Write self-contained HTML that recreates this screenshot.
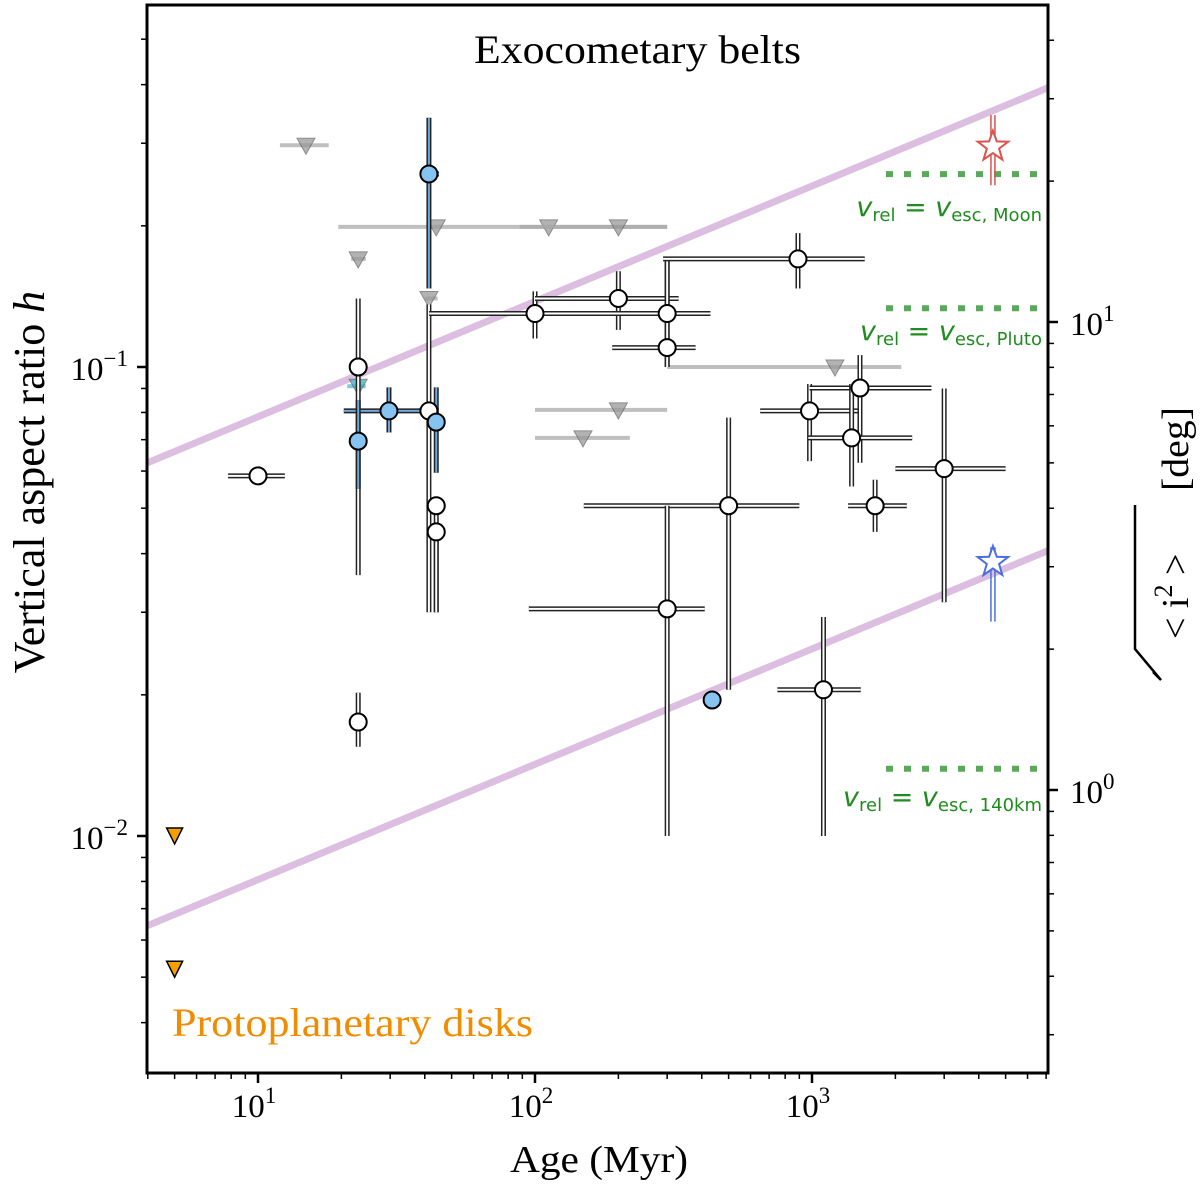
<!DOCTYPE html>
<html><head><meta charset="utf-8"><style>
body{margin:0;background:#fff}
svg text{font-family:"Liberation Serif",serif}
</style></head><body>
<svg id="chart" width="1200" height="1187" xmlns="http://www.w3.org/2000/svg"></svg>
<script>
// ---- data ----
const whiteAge = [10, 23, 23, 41.4, 44, 44, 100, 200, 300, 300, 890, 980, 1490, 1390, 1690, 3000, 500, 300, 1100];
const whiteH   = [0.0586, 0.1, 0.0175, 0.0806, 0.0506, 0.0445, 0.130, 0.140, 0.130, 0.110, 0.170, 0.0806, 0.0902, 0.0706, 0.0506, 0.0607, 0.0506, 0.0305, 0.0205];
const whiteAgeLo = [7.8, 22, 22, 38, 43, 43, 41.5, 100, 41.5, 190, 290, 650, 980, 970, 1350, 2000, 150, 95, 750];
const whiteAgeHi = [12.5, 24.5, 24.5, 45, 46, 46, 430, 330, 430, 380, 1550, 1500, 2700, 2300, 2200, 5000, 900, 410, 1500];
const whiteHLo = [0.0586, 0.036, 0.0155, 0.030, 0.030, 0.030, 0.115, 0.120, 0.1, 0.1, 0.147, 0.063, 0.0625, 0.0556, 0.0445, 0.0315, 0.0205, 0.0100, 0.0100];
const whiteHHi = [0.0586, 0.140, 0.0202, 0.136, 0.0506, 0.0445, 0.145, 0.160, 0.171, 0.171, 0.193, 0.092, 0.106, 0.092, 0.0575, 0.090, 0.078, 0.0506, 0.0293];

const blueAge = [41.4, 29.7, 23, 44, 436];
const blueH   = [0.258, 0.0806, 0.0695, 0.0763, 0.0195];
const blueAgeLo = [40, 20.4, 22, 43.5, 436];
const blueAgeHi = [45, 41.4, 24.5, 45, 436];
const blueHLo = [0.147, 0.0725, 0.055, 0.0595, 0.0195];
const blueHHi = [0.340, 0.0905, 0.085, 0.0905, 0.0195];

const grayAge = [14.9, 44, 112, 200, 23, 41.4, 1210, 200, 149, 23];
const grayH   = [0.297, 0.199, 0.199, 0.199, 0.170, 0.140, 0.100, 0.081, 0.0706, 0.091];
const grayAgeLo = [12, 19.5, 88, 88, 21.7, 40, 300, 100, 100, 21];
const grayAgeHi = [18, 88, 300, 300, 24.5, 44.5, 2100, 300, 220, 24.5];

const diskAge = [5, 5];
const diskH = [0.0100, 0.0052];

const trendH0 = [0.0624, 0.00643]; // h at age 3.97 Myr
const trendSlope = 0.246;

const starAge = [4500, 4500];
const starInc = [23.7, 3.07];
const starIncLo = [19.6, 2.29];
const starIncHi = [27.7, 3.3];
const escInc = [20.7, 10.7, 1.11];
const escLabel = ["Moon", "Pluto", "140km"];

const xTicks = [10, 100, 1000];
const yTicks = [-2, -1];
const rTicks = [0, 1];

// ---- scales ----
const L=147,R=1048,T=5,B=1073;
const X = a => 258 + 277*(Math.log10(a)-1);
const Y = h => 367 - 469*(Math.log10(h)+1);
const YR = d => 790 - 468*Math.log10(d);
const svg = document.getElementById('chart');
const NS='http://www.w3.org/2000/svg';
function mk(tag, at, parent){const e=document.createElementNS(NS,tag);for(const k in at)e.setAttribute(k,at[k]);(parent||svg).appendChild(e);return e;}

const defs=mk('defs',{});
const cp=mk('clipPath',{id:'cp'},defs); mk('rect',{x:L,y:T,width:R-L,height:B-T},cp);
const g=mk('g',{'clip-path':'url(#cp)'});



trendH0.forEach((h0,i)=>{
  const f=a=>h0*Math.pow(a/3.97,trendSlope);
  const l=mk('line',{x1:X(3.5),y1:Y(f(3.5)),x2:X(8000),y2:Y(f(8000)),stroke:'#dcbfe0',"stroke-width":7},g);
  
  
});

const labelOff=[42,32,37];
escInc.forEach((d,i)=>{
  const l=mk('line',{x1:886,y1:YR(d),x2:1046,y2:YR(d),stroke:'#5aa85a',"stroke-width":6,"stroke-dasharray":"7 11"},g);
  
  
  const t=mk('text',{x:1042,y:YR(d)+labelOff[i],"text-anchor":"end",fill:'#1e8c1e',"font-size":22,style:'font-family:"DejaVu Sans",sans-serif'},g);
  
  
  t.innerHTML='<tspan font-style="italic" font-size="27">v</tspan><tspan font-size="18" dy="5">rel</tspan><tspan dy="-5" font-size="27"> = </tspan><tspan font-style="italic" font-size="27">v</tspan><tspan font-size="18" dy="5">esc, '+escLabel[i]+'</tspan>';
});

grayAge.forEach((a,i)=>{
  const col = i===9 ? '#5fb8c8' : '#aaa';
  const l=mk('line',{x1:X(grayAgeLo[i]),y1:Y(grayH[i]),x2:X(grayAgeHi[i]),y2:Y(grayH[i]),stroke:col,"stroke-width":4,opacity:0.75},g);
  
  
  const x=X(a),y=Y(grayH[i]);
  const p=mk('polygon',{points:`${x-9},${y-7} ${x+9},${y-7} ${x},${y+9}`,fill:i===9?'#3aaebf':'#999',stroke:'#666',"stroke-width":1,opacity:0.75},g);
  
  
});

function dbl(x1,y1,x2,y2,inner){
  if(x1===x2&&y1===y2)return;
  const a=mk('line',{x1,y1,x2,y2,stroke:'#222',"stroke-width":5},g);
  
  
  const b=mk('line',{x1,y1,x2,y2,stroke:inner,"stroke-width":2},g);
  
  
}
whiteAge.forEach((a,i)=>{
  dbl(X(whiteAgeLo[i]),Y(whiteH[i]),X(whiteAgeHi[i]),Y(whiteH[i]),'#fff');
  dbl(X(a),Y(whiteHLo[i]),X(a),Y(whiteHHi[i]),'#fff');
});
blueAge.forEach((a,i)=>{
  dbl(X(blueAgeLo[i]),Y(blueH[i]),X(blueAgeHi[i]),Y(blueH[i]),'#6fa8dc');
  dbl(X(a),Y(blueHLo[i]),X(a),Y(blueHHi[i]),'#6fa8dc');
});
whiteAge.forEach((a,i)=>{
  const c=mk('circle',{cx:X(a),cy:Y(whiteH[i]),r:8.5,fill:'#fff',stroke:'#000',"stroke-width":2},g);
  
  
});
blueAge.forEach((a,i)=>{
  const c=mk('circle',{cx:X(a),cy:Y(blueH[i]),r:8.5,fill:'#87c3f0',stroke:'#000',"stroke-width":2},g);
  
  
});
diskAge.forEach((a,i)=>{
  const x=X(a),y=Y(diskH[i]);
  const p=mk('polygon',{points:`${x-8},${y-8} ${x+8},${y-8} ${x},${y+8}`,fill:'#f5a000',stroke:'#000',"stroke-width":1.5},g);
  
  
});
const starCols=['#d9534f','#4a6ee0'];
starAge.forEach((a,i)=>{
  const x=X(a),y=YR(starInc[i]);
  [-2,2].forEach(o=>{
    const l=mk('line',{x1:x+o,y1:YR(starIncHi[i]),x2:x+o,y2:YR(starIncLo[i]),stroke:starCols[i],"stroke-width":1.5},g);
    
    
  });
  let pts=[];for(let k=0;k<10;k++){const r=k%2?6.5:16,an=-Math.PI/2+k*Math.PI/5;pts.push((x+r*Math.cos(an)).toFixed(1)+','+(y+r*Math.sin(an)).toFixed(1));}
  const s=mk('polygon',{points:pts.join(' '),fill:'#fff',stroke:starCols[i],"stroke-width":2},g);
  
  
});

const fr=mk('rect',{x:L,y:T,width:R-L,height:B-T,fill:'none',stroke:'#000',"stroke-width":3});



function tick(x1,y1,x2,y2,w){const t=mk('line',{x1,y1,x2,y2,stroke:'#000',"stroke-width":w});}
for(let e=0;e<4;e++)for(let m=1;m<10;m++){const v=m*Math.pow(10,e);const x=X(v);if(x<L||x>R)continue;tick(x,B,x,B+(m===1?10:6),m===1?2.5:1.5);}
xTicks.forEach(v=>{const t=mk('text',{x:X(v)-4,y:1117,"text-anchor":"middle","font-size":33});t.innerHTML='10<tspan font-size="23" dy="-14">'+Math.log10(v)+'</tspan>';});
for(let e=-3;e<0;e++)for(let m=1;m<10;m++){const v=m*Math.pow(10,e);const y=Y(v);if(y<T||y>B)continue;tick(L,y,L-(m===1?10:6),y,m===1?2.5:1.5);}
yTicks.forEach(e=>{const t=mk('text',{x:128,y:Y(Math.pow(10,e))+13,"text-anchor":"end","font-size":33});t.innerHTML='10<tspan font-size="23" dy="-14">−'+(-e)+'</tspan>';});
for(let e=-1;e<2;e++)for(let m=1;m<10;m++){const v=m*Math.pow(10,e);const y=YR(v);if(y<T||y>B)continue;tick(R,y,R+(m===1?10:6),y,m===1?2.5:1.5);}
rTicks.forEach(e=>{const t=mk('text',{x:1070,y:YR(Math.pow(10,e))+13,"font-size":33});t.innerHTML='10<tspan font-size="23" dy="-14">'+e+'</tspan>';});

function txt(at,s,name,parent){const t=mk('text',at,parent);t.innerHTML=s;return t;}
txt({x:474,y:63,"font-size":40,textLength:327,lengthAdjust:'spacingAndGlyphs'},'Exocometary belts','chart-title');
txt({x:510,y:1172,"font-size":38,textLength:178,lengthAdjust:'spacingAndGlyphs'},'Age (Myr)','x-axis-title');
txt({x:44,y:482,"text-anchor":"middle","font-size":44,transform:'rotate(-90 44 482)'},'Vertical aspect ratio <tspan font-style="italic">h</tspan>','y-axis-title');
txt({x:172,y:1036,"font-size":40,fill:'#f08c00',textLength:361,lengthAdjust:'spacingAndGlyphs'},'Protoplanetary disks','disk-label');

// right axis title
const rg=mk('g',{transform:'translate(1188 543) rotate(-90)'});


const rad=mk('path',{d:'M 38,-53 L -106,-53 L -137,-27 L -129,-35',fill:'none',stroke:'#000',"stroke-width":2.5},rg);


txt({x:-96,y:0,"font-size":38},'&lt; i<tspan font-size="26" dy="-16">2</tspan><tspan dy="16"> &gt;</tspan>','right-axis-title-text',rg);
txt({x:52,y:0,"font-size":38,textLength:84,lengthAdjust:'spacingAndGlyphs'},'[deg]','right-axis-unit',rg);
</script>
</body></html>
